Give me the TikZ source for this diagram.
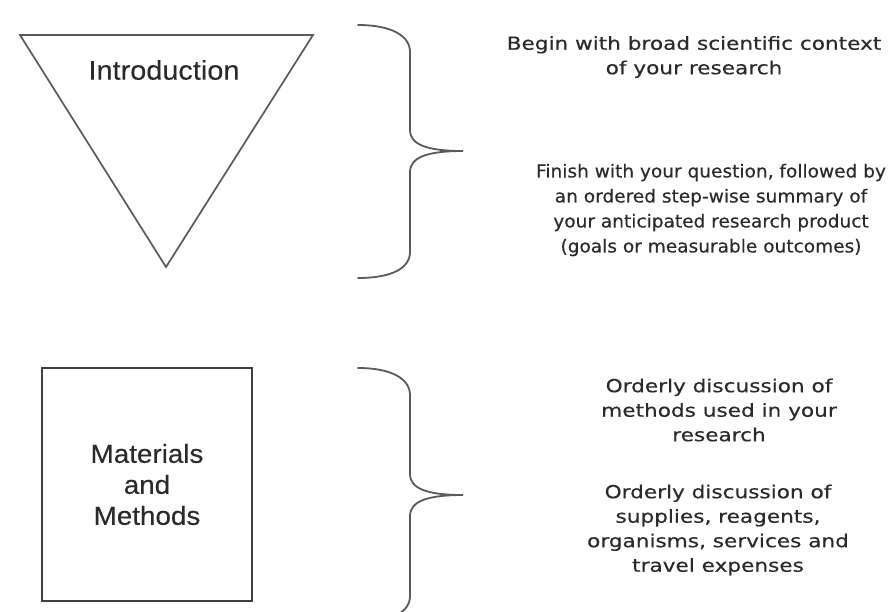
\documentclass[tikz,border=0pt]{standalone}
\usepackage{fontspec}
\setmainfont{Liberation Sans}
\newfontfamily\rtfont[FakeStretch=1.2,FakeBold=0.35]{DejaVu Sans}
\newfontfamily\rtfontn[FakeStretch=1.03,FakeBold=0.35]{DejaVu Sans}
\newfontfamily\lbfont[FakeStretch=1.07,FakeBold=0.2]{Liberation Sans}
\definecolor{lineg}{HTML}{5A5A5A}
\definecolor{boxg}{HTML}{404040}
\definecolor{txtg}{HTML}{2A2A2A}
\tikzset{
  shapeline/.style={draw=lineg, line width=1.7pt, line join=miter},
  braceline/.style={draw=lineg, line width=1.8pt, line cap=round},
  rtext/.style={text=txtg, align=center, font=\rtfont\fontsize{18}{24.5}\selectfont, inner sep=0pt},
  rtextn/.style={text=txtg, align=center, font=\rtfontn\fontsize{18}{25}\selectfont, inner sep=0pt},
  ltext/.style={text=txtg, align=center, inner sep=0pt},
}
\begin{document}
\begin{tikzpicture}[x=1pt,y=-1pt]
\useasboundingbox (0,0) rectangle (890,611);
\clip (0,0) rectangle (890,611);
\fill[white] (0,0) rectangle (890,611);

% Introduction triangle
\coordinate (tl) at (20,35);
\coordinate (tr) at (313,35);
\coordinate (tb) at (166,267);
\draw[shapeline] (tl) -- (tr) -- (tb) -- cycle;
\node[ltext, font=\lbfont\fontsize{27}{31}\selectfont] (intro) at (164,70) {Introduction};

% Materials and Methods box
\node[draw=boxg, line width=2.2pt, minimum width=210pt, minimum height=233pt,
      ltext, font=\lbfont\fontsize{26}{31}\selectfont] (mm) at (147,484.5)
      {Materials\\and\\Methods};

% Brace 1
\coordinate (b1top) at (358,25);
\coordinate (b1tip) at (463,151);
\coordinate (b1bot) at (358,278);
\draw[braceline] (b1top) .. controls (392,25) and (410,36) .. (410,52)
   -- (410,130) .. controls (410,145) and (428,151) .. (b1tip)
   .. controls (428,151) and (410,157) .. (410,172)
   -- (410,252) .. controls (410,268) and (392,278) .. (b1bot);

% Brace 2
\coordinate (b2top) at (358,368);
\coordinate (b2tip) at (463,495);
\coordinate (b2bot) at (358,622);
\draw[braceline] (b2top) .. controls (392,368) and (410,379) .. (410,395)
   -- (410,474) .. controls (410,489) and (428,495) .. (b2tip)
   .. controls (428,495) and (410,501) .. (410,516)
   -- (410,596) .. controls (410,612) and (392,622) .. (b2bot);

% Right-hand texts
\node[rtext] (t1) at (694,57) {Begin with broad scientific context\\of your research};
\node[rtextn] (t2) at (711,210) {Finish with your question, followed by\\an ordered step-wise summary of\\your anticipated research product\\(goals or measurable outcomes)};
\node[rtext] (t3) at (719,410) {Orderly discussion of\\methods used in your\\research};
\node[rtext] (t4) at (718,530) {Orderly discussion of\\supplies, reagents,\\organisms, services and\\travel expenses};
\end{tikzpicture}
\end{document}
